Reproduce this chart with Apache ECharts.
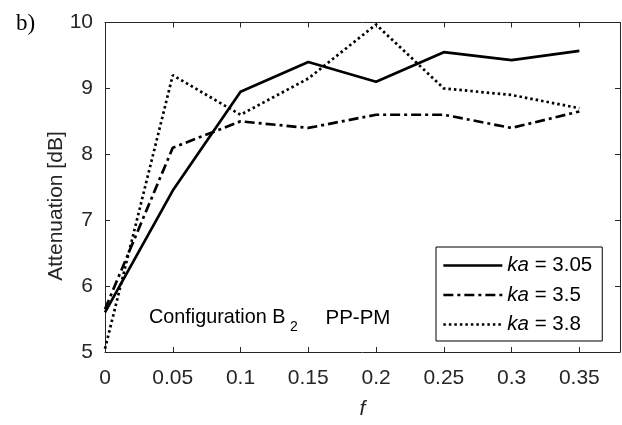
<!DOCTYPE html>
<html>
<head>
<meta charset="utf-8">
<script src="https://cdn.jsdelivr.net/npm/echarts@6/dist/echarts.min.js"></script>
<style>html,body{margin:0;padding:0;background:#fff;}#c{width:622px;height:425px;}</style>
</head>
<body>
<div id="c"></div>
<script>
// Data
const fValues = [0, 0.05, 0.1, 0.15, 0.2, 0.25, 0.3, 0.35];
const seriesNames = ['3.05', '3.5', '3.8'];
const ka305 = [5.6, 7.45, 8.95, 9.4, 9.1, 9.55, 9.43, 9.57];
const ka35 = [5.65, 8.1, 8.5, 8.4, 8.6, 8.6, 8.4, 8.65];
const ka38 = [5.05, 9.2, 8.6, 9.15, 9.97, 9.0, 8.9, 8.7];
const xTicks = [0, 0.05, 0.1, 0.15, 0.2, 0.25, 0.3, 0.35];
const yTicks = [5, 6, 7, 8, 9, 10];

const FONT = '"Liberation Sans", Arial, Helvetica, sans-serif';
const AX = '#262626';
const toPairs = ys => fValues.map((x, i) => [x, ys[i]]);
const lineTypes = ['solid', [10, 4, 3, 4], [2.5, 3]];
const allSeries = [ka305, ka35, ka38];

const chart = echarts.init(document.getElementById('c'), null, {renderer: 'canvas'});

function axisCommon(isX, showLabel) {
  return {
    type: 'value',
    min: isX ? 0 : 5,
    max: isX ? 0.38 : 10,
    interval: isX ? 0.05 : 1,
    axisLine: {show: true, onZero: false, lineStyle: {color: AX, width: 1}},
    axisTick: {show: true, inside: true, length: 5, lineStyle: {color: AX, width: 1}},
    splitLine: {show: false},
    axisLabel: {
      show: showLabel,
      color: AX,
      fontSize: 21,
      fontFamily: FONT,
      margin: isX ? 16 : 12,
      showMaxLabel: isX ? false : true,
      formatter: v => {
        const arr = isX ? xTicks : yTicks;
        const hit = arr.find(t => Math.abs(t - v) < 1e-9);
        return hit === undefined ? '' : String(hit);
      }
    }
  };
}

const option = {
  animation: false,
  backgroundColor: '#fff',
  grid: {left: 105, right: 2, top: 22.5, bottom: 61, containLabel: false},
  xAxis: [
    Object.assign(axisCommon(true, true), {
      position: 'bottom',
      name: 'f',
      nameLocation: 'middle',
      nameGap: 47,
      nameTextStyle: {fontSize: 21, fontStyle: 'italic', fontFamily: FONT, color: AX}
    }),
    Object.assign(axisCommon(true, false), {position: 'top'})
  ],
  yAxis: [
    Object.assign(axisCommon(false, true), {position: 'left'}),
    Object.assign(axisCommon(false, false), {position: 'right'})
  ],
  legend: {
    orient: 'vertical',
    left: 436,
    top: 247,
    padding: [8, 10, 6, 6],
    itemWidth: 59,
    itemHeight: 20,
    itemGap: 8.5,
    itemTextGap: 7,
    borderColor: '#000',
    borderWidth: 1,
    backgroundColor: '#fff',
    itemStyle: {opacity: 0},
    lineStyle: {width: 2.7},
    data: seriesNames.map(n => 'ka = ' + n),
    formatter: name => '{i|ka}{n| = ' + name.replace('ka = ', '') + '}',
    textStyle: {
      fontSize: 20.5, fontFamily: FONT, color: '#000',
      rich: {
        i: {fontSize: 20.5, fontFamily: FONT, fontStyle: 'italic', color: '#000'},
        n: {fontSize: 20.5, fontFamily: FONT, color: '#000'}
      }
    }
  },
  series: allSeries.map((ys, i) => ({
    name: 'ka = ' + seriesNames[i],
    type: 'line',
    xAxisIndex: 0,
    yAxisIndex: 0,
    data: toPairs(ys),
    symbol: 'none',
    showSymbol: false,
    lineStyle: {color: '#000', width: 2.7, type: lineTypes[i]},
    itemStyle: {color: '#000'},
    z: 3 - i
  })),
  graphic: [
    {type: 'text', x: 56, y: 206, rotation: Math.PI / 2,
     style: {text: 'Attenuation [dB]', fontSize: 21, fontFamily: FONT, fill: AX, align: 'center', verticalAlign: 'middle'}},
    {type: 'text', x: 16, y: 24,
     style: {text: 'b)', fontSize: 23, fontFamily: '"Liberation Serif", "DejaVu Serif", serif', fill: '#000', align: 'left', verticalAlign: 'middle'}},
    {type: 'text', x: 149, y: 318,
     style: {text: 'Configuration B', fontSize: 19.8, fontFamily: FONT, fill: '#000', align: 'left', verticalAlign: 'middle'}},
    {type: 'text', x: 290, y: 327,
     style: {text: '2', fontSize: 14, fontFamily: FONT, fill: '#000', align: 'left', verticalAlign: 'middle'}},
    {type: 'text', x: 325.5, y: 318,
     style: {text: 'PP-PM', fontSize: 20.5, fontFamily: FONT, fill: '#000', align: 'left', verticalAlign: 'middle'}}
  ]
};
chart.setOption(option);
</script>
</body>
</html>
